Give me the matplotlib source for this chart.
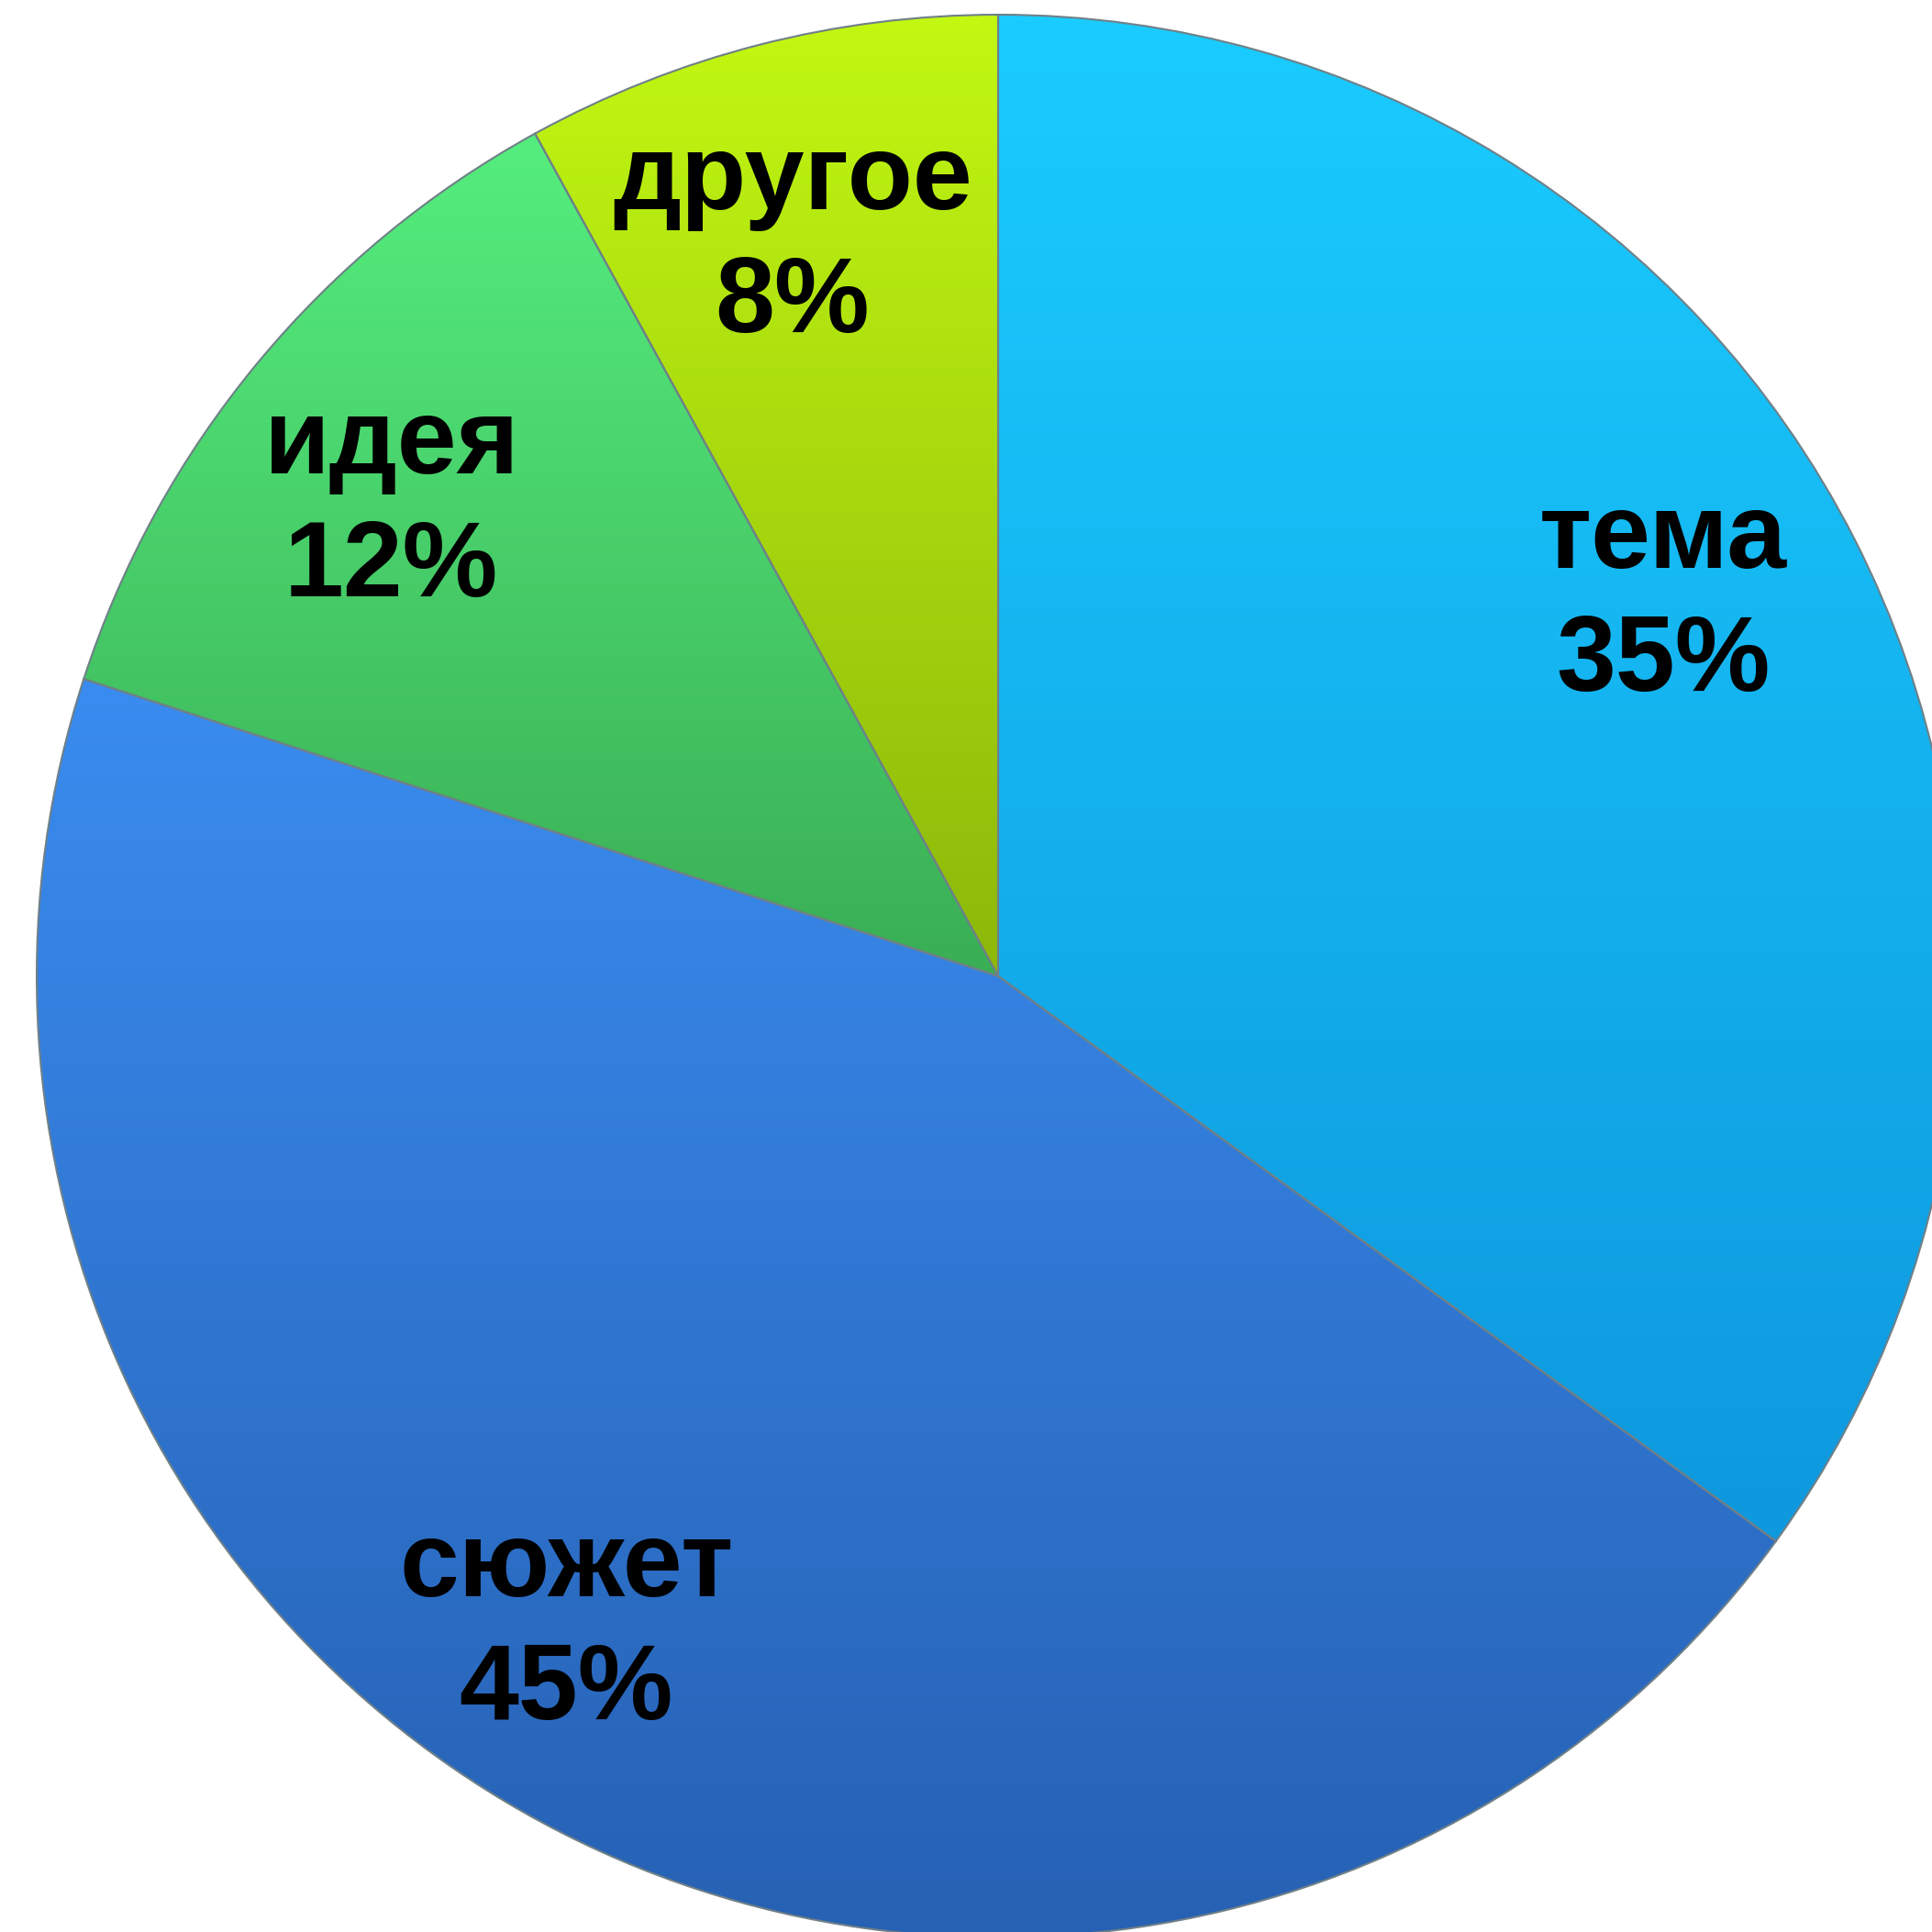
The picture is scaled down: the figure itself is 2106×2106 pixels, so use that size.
import numpy as np
import matplotlib
matplotlib.use("Agg")
import matplotlib.pyplot as plt
from matplotlib.colors import LinearSegmentedColormap

# данные
labels = ["тема", "сюжет", "идея", "другое"]
values = [35, 45, 12, 8]
color_top = ["#1ACCFF", "#3A8CF0", "#55EE7E", "#C2F812"]
color_bottom = ["#0E98DE", "#2660B2", "#3AAE55", "#8CB80A"]

# положение подписей (в координатах круга)
label_xy = [(0.692, 0.39), (-0.449, -0.68), (-0.631, 0.488), (-0.214, 0.763)]

W = 2106
fig = plt.figure(figsize=(W / 100, W / 100), dpi=100)
r_px = 1048
cx, cy = 1088, 2106 - 1064
ax = fig.add_axes([(cx - r_px) / W, (cy - r_px) / W, 2 * r_px / W, 2 * r_px / W])
ax.set_xlim(-1, 1)
ax.set_ylim(-1, 1)
ax.set_aspect("equal")
ax.axis("off")

wedges, _ = ax.pie(values, startangle=90, counterclock=False, radius=1,
                   wedgeprops=dict(edgecolor="#6f8088", linewidth=1.5))

for w, ct, cb in zip(wedges, color_top, color_bottom):
    w.set_facecolor("none")
    verts = w.get_path().vertices
    ys = verts[:, 1]
    xs = verts[:, 0]
    ymin, ymax = ys.min(), ys.max()
    xmin, xmax = xs.min(), xs.max()
    cmap = LinearSegmentedColormap.from_list("g", [cb, ct])
    grad = np.linspace(0, 1, 256).reshape(-1, 1)
    im = ax.imshow(grad, cmap=cmap, origin="lower", aspect="auto",
                   extent=(xmin, xmax, ymin, ymax), zorder=0.5)
    im.set_clip_path(w)
    w.set_zorder(1)

ax.set_xlim(-1, 1)
ax.set_ylim(-1, 1)

for lab, v, (x, y) in zip(labels, values, label_xy):
    ax.text(x, y, f"{lab}\n{v}%", ha="center", va="center",
            fontsize=84, fontweight="bold", family=["Liberation Sans", "DejaVu Sans"],
            color="black", linespacing=1.3, zorder=3)

fig.savefig("out.png", dpi=100, facecolor="white")
